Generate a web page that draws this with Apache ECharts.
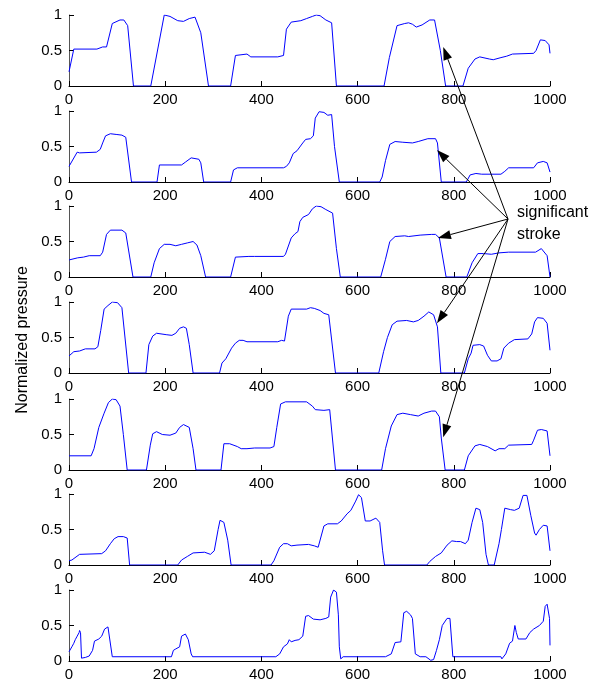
<!DOCTYPE html>
<html><head><meta charset="utf-8">
<script src="https://cdn.jsdelivr.net/npm/echarts@6/dist/echarts.min.js"></script>
<style>html,body{margin:0;padding:0;background:#fff}#c{width:604px;height:685px}</style>
</head><body><div id="c"></div>
<script>
const xTicks = [0, 200, 400, 600, 800, 1000];
const yTicks = [0, 0.5, 1];
const yTitle = 'Normalized pressure';
const strokeLabel = ['significant', 'stroke'];

const pressure1 = [[0,0.2],[10,0.52],[58,0.52],[70,0.55],[78,0.55],[90,0.88],[106,0.93],[114,0.93],[122,0.85],[134,0],[170,0],[198,1.0],[210,0.98],[226,0.92],[238,0.91],[250,0.95],[262,0.97],[266,0.96],[274,0.75],[290,0],[336,0],[346,0.43],[370,0.45],[378,0.41],[434,0.41],[446,0.43],[452,0.8],[462,0.9],[482,0.92],[494,0.95],[506,0.98],[514,1.0],[522,0.99],[534,0.93],[546,0.89],[550,0.88],[556,0],[655,0],[666,0.4],[682,0.85],[698,0.88],[706,0.89],[714,0.87],[722,0.83],[734,0.86],[750,0.93],[760,0.93],[772,0.5],[783,0],[819,0],[830,0.25],[844,0.38],[854,0.41],[874,0.38],[882,0.37],[898,0.4],[910,0.42],[922,0.45],[966,0.46],[971,0.5],[980,0.65],[990,0.64],[998,0.58],[1000,0.46]];
const pressure2 = [[0,0.22],[17,0.42],[22,0.41],[57,0.42],[65,0.46],[70,0.55],[76,0.65],[86,0.68],[98,0.67],[110,0.66],[118,0.63],[130,0],[183,0],[188,0.24],[234,0.24],[242,0.28],[254,0.34],[258,0.35],[270,0.32],[274,0.27],[280,0],[336,0],[342,0.17],[350,0.2],[446,0.2],[452,0.22],[458,0.27],[466,0.4],[474,0.44],[478,0.46],[486,0.55],[492,0.6],[502,0.61],[508,0.65],[512,0.9],[520,0.99],[530,0.98],[538,0.94],[546,0.95],[552,0.5],[562,0],[646,0],[651,0.07],[658,0.3],[667,0.53],[678,0.57],[694,0.56],[714,0.55],[726,0.57],[746,0.61],[762,0.61],[766,0.55],[774,0],[826,0],[834,0.1],[846,0.12],[858,0.11],[898,0.11],[906,0.15],[914,0.2],[966,0.2],[974,0.27],[986,0.29],[994,0.27],[1000,0.14]];
const pressure3 = [[0,0.24],[18,0.27],[30,0.28],[42,0.3],[65,0.3],[70,0.35],[78,0.6],[86,0.66],[110,0.66],[118,0.62],[133,0],[170,0],[177,0.2],[188,0.4],[198,0.46],[210,0.46],[222,0.44],[234,0.46],[246,0.48],[258,0.5],[266,0.45],[274,0.3],[284,0],[336,0],[346,0.28],[374,0.29],[378,0.31],[386,0.29],[446,0.29],[450,0.32],[454,0.3],[462,0.55],[470,0.61],[476,0.64],[480,0.78],[486,0.84],[498,0.88],[506,0.96],[514,1.0],[524,0.99],[534,0.95],[548,0.9],[556,0.4],[564,0],[648,0],[658,0.25],[667,0.5],[678,0.57],[698,0.58],[706,0.57],[730,0.59],[754,0.6],[762,0.6],[770,0.55],[784,0],[827,0],[838,0.2],[850,0.33],[862,0.33],[878,0.32],[894,0.34],[914,0.35],[970,0.35],[982,0.4],[986,0.42],[994,0.3],[1000,0]];
const pressure4 = [[0,0.24],[10,0.3],[22,0.31],[34,0.34],[54,0.34],[60,0.37],[66,0.6],[73,0.9],[81,0.95],[90,1.0],[101,0.99],[110,0.92],[124,0],[160,0],[166,0.4],[174,0.52],[182,0.56],[202,0.54],[214,0.53],[222,0.56],[230,0.63],[238,0.65],[244,0.63],[250,0.4],[258,0],[313,0],[318,0.14],[326,0.2],[338,0.35],[346,0.42],[354,0.46],[362,0.46],[370,0.44],[434,0.44],[442,0.46],[448,0.45],[456,0.8],[462,0.9],[494,0.9],[502,0.92],[510,0.91],[522,0.88],[530,0.84],[540,0.82],[554,0],[644,0],[654,0.3],[662,0.5],[672,0.68],[682,0.73],[702,0.74],[716,0.72],[726,0.74],[738,0.8],[748,0.86],[758,0.82],[766,0.65],[773,0],[822,0],[830,0.2],[836,0.28],[840,0.39],[854,0.4],[862,0.38],[870,0.25],[878,0.17],[890,0.17],[898,0.2],[904,0.35],[914,0.42],[926,0.47],[954,0.48],[962,0.55],[968,0.72],[974,0.78],[986,0.77],[994,0.7],[1000,0.32]];
const pressure5 = [[0,0.2],[46,0.2],[52,0.3],[62,0.6],[73,0.8],[82,0.95],[90,1.0],[98,0.99],[106,0.9],[113,0.5],[121,0],[161,0],[169,0.35],[174,0.51],[182,0.54],[194,0.5],[210,0.49],[222,0.52],[230,0.6],[238,0.64],[250,0.6],[258,0.3],[264,0],[316,0],[322,0.37],[334,0.37],[350,0.33],[358,0.3],[370,0.3],[386,0.31],[418,0.31],[426,0.33],[432,0.6],[440,0.93],[450,0.96],[494,0.96],[506,0.9],[512,0.85],[530,0.84],[542,0.85],[554,0],[650,0],[658,0.3],[670,0.62],[682,0.78],[694,0.8],[710,0.78],[726,0.76],[738,0.8],[754,0.83],[762,0.83],[770,0.75],[774,0.45],[782,0],[822,0],[830,0.2],[844,0.34],[854,0.36],[870,0.33],[886,0.27],[894,0.3],[906,0.3],[914,0.35],[962,0.36],[966,0.42],[974,0.56],[982,0.57],[994,0.55],[1000,0.2]];
const pressure6 = [[0,0.06],[6,0.07],[22,0.15],[68,0.16],[76,0.2],[86,0.3],[94,0.37],[102,0.4],[113,0.4],[116,0.38],[121,0.38],[126,0],[226,0],[234,0.07],[246,0.12],[258,0.17],[282,0.18],[294,0.15],[302,0.2],[310,0.5],[314,0.63],[322,0.6],[330,0.35],[337,0],[420,0],[426,0.06],[438,0.25],[446,0.3],[454,0.3],[462,0.27],[474,0.28],[498,0.29],[510,0.27],[518,0.25],[522,0.27],[530,0.55],[538,0.58],[558,0.58],[566,0.62],[578,0.72],[586,0.77],[590,0.78],[596,0.9],[602,0.99],[608,0.95],[616,0.62],[626,0.62],[638,0.66],[646,0.6],[652,0.2],[656,0],[744,0],[750,0.05],[762,0.12],[774,0.17],[786,0.28],[796,0.34],[806,0.33],[814,0.33],[824,0.3],[830,0.35],[838,0.6],[846,0.8],[854,0.78],[860,0.6],[867,0.15],[872,0],[884,0],[894,0.3],[899,0.5],[906,0.8],[918,0.78],[926,0.77],[936,0.8],[944,0.98],[952,0.98],[960,0.7],[968,0.45],[971,0.42],[978,0.5],[986,0.56],[994,0.55],[1000,0.2]];
const pressure7 = [[0,0.13],[6,0.2],[10,0.25],[13,0.3],[17,0.35],[21,0.4],[22,0.43],[24,0.4],[26,0.04],[34,0.05],[42,0.07],[49,0.15],[53,0.28],[62,0.31],[68,0.35],[74,0.45],[81,0.48],[85,0.46],[90,0.06],[213,0.06],[217,0.15],[222,0.17],[230,0.2],[234,0.35],[242,0.38],[248,0.3],[254,0.1],[257,0.06],[430,0.06],[438,0.1],[446,0.2],[454,0.24],[458,0.3],[462,0.27],[470,0.29],[478,0.3],[486,0.35],[492,0.63],[498,0.64],[508,0.59],[522,0.58],[534,0.6],[540,0.62],[544,0.9],[550,1.0],[556,0.97],[560,0.65],[562,0.2],[565,0.03],[570,0.06],[658,0.06],[670,0.1],[678,0.26],[690,0.27],[696,0.68],[702,0.7],[710,0.65],[714,0.6],[720,0.1],[730,0.06],[742,0.06],[752,0.01],[758,0.02],[764,0.15],[770,0.3],[776,0.5],[786,0.6],[792,0.6],[798,0.06],[898,0.06],[900,0.03],[908,0.1],[916,0.25],[922,0.28],[927,0.5],[930,0.4],[934,0.31],[950,0.31],[958,0.4],[966,0.45],[978,0.5],[986,0.56],[990,0.77],[994,0.8],[998,0.82],[999,0.6],[1000,0.22]];

// annotation arrow tips: [plot index, x, y]
const arrowTips = [[0,778,0.55],[1,765,0.45],[2,767,0.55],[3,765,0.70],[4,778,0.46]];

const allSeries = [pressure1, pressure2, pressure3, pressure4, pressure5, pressure6, pressure7];
const tops = [15, 111, 206, 302, 399, 494, 590];
const FONT = 'Liberation Sans, Arial, sans-serif';

const chart = echarts.init(document.getElementById('c'), null, {renderer: 'canvas'});
const grids = [], xAxes = [], yAxes = [], ser = [];
allSeries.forEach((d, i) => {
  grids.push({left: 69, width: 481, top: tops[i], height: 71, containLabel: false});
  xAxes.push({
    type: 'value', gridIndex: i, min: xTicks[0], max: xTicks[xTicks.length - 1],
    interval: xTicks[1] - xTicks[0],
    axisLine: {show: true, onZero: false, lineStyle: {color: '#000', width: 1}},
    axisTick: {show: true, inside: true, length: 5, lineStyle: {color: '#000', width: 1}},
    axisLabel: {color: '#000', fontSize: 15, fontFamily: FONT, margin: 6, showMinLabel: true, showMaxLabel: true, formatter: v => String(v)},
    splitLine: {show: false}
  });
  yAxes.push({
    type: 'value', gridIndex: i, min: yTicks[0], max: yTicks[yTicks.length - 1],
    interval: yTicks[1] - yTicks[0],
    axisLine: {show: true, lineStyle: {color: '#555', width: 1}},
    axisTick: {show: true, inside: true, length: 5, lineStyle: {color: '#000', width: 1}},
    axisLabel: {color: '#000', fontSize: 15, fontFamily: FONT, margin: 7, showMinLabel: true, showMaxLabel: true, formatter: v => String(v)},
    splitLine: {show: false}
  });
  ser.push({
    type: 'line', xAxisIndex: i, yAxisIndex: i, data: d, symbol: 'none', showSymbol: false,
    lineStyle: {color: '#0000ff', width: 1}, silent: true, animation: false
  });
});

chart.setOption({
  animation: false,
  backgroundColor: '#fff',
  grid: grids, xAxis: xAxes, yAxis: yAxes, series: ser
});

// annotation arrows
const origin = [508, 219];
const graphics = [];
arrowTips.forEach(t => {
  const p = chart.convertToPixel({gridIndex: t[0]}, [t[1], t[2]]);
  const dx = p[0] - origin[0], dy = p[1] - origin[1];
  const len = Math.sqrt(dx * dx + dy * dy);
  const ux = dx / len, uy = dy / len;
  const hl = 13, hw = 4.5;
  const bx = p[0] - ux * hl, by = p[1] - uy * hl;
  graphics.push({type: 'line', shape: {x1: origin[0], y1: origin[1], x2: bx, y2: by}, style: {stroke: '#000', lineWidth: 1}, z: 100});
  graphics.push({type: 'polygon', shape: {points: [[p[0], p[1]], [bx - uy * hw, by + ux * hw], [bx + uy * hw, by - ux * hw]]}, style: {fill: '#000'}, z: 100});
});
graphics.push({type: 'text', x: 517, y: 213, style: {text: strokeLabel[0], font: '16px ' + FONT, fill: '#000', verticalAlign: 'middle'}, z: 100});
graphics.push({type: 'text', x: 517, y: 235, style: {text: strokeLabel[1], font: '16px ' + FONT, fill: '#000', verticalAlign: 'middle'}, z: 100});
graphics.push({type: 'text', x: 23, y: 340, rotation: Math.PI / 2, style: {text: yTitle, font: '16px ' + FONT, fill: '#000', align: 'center', verticalAlign: 'middle'}, z: 100});
chart.setOption({graphic: graphics});
</script>
</body></html>
